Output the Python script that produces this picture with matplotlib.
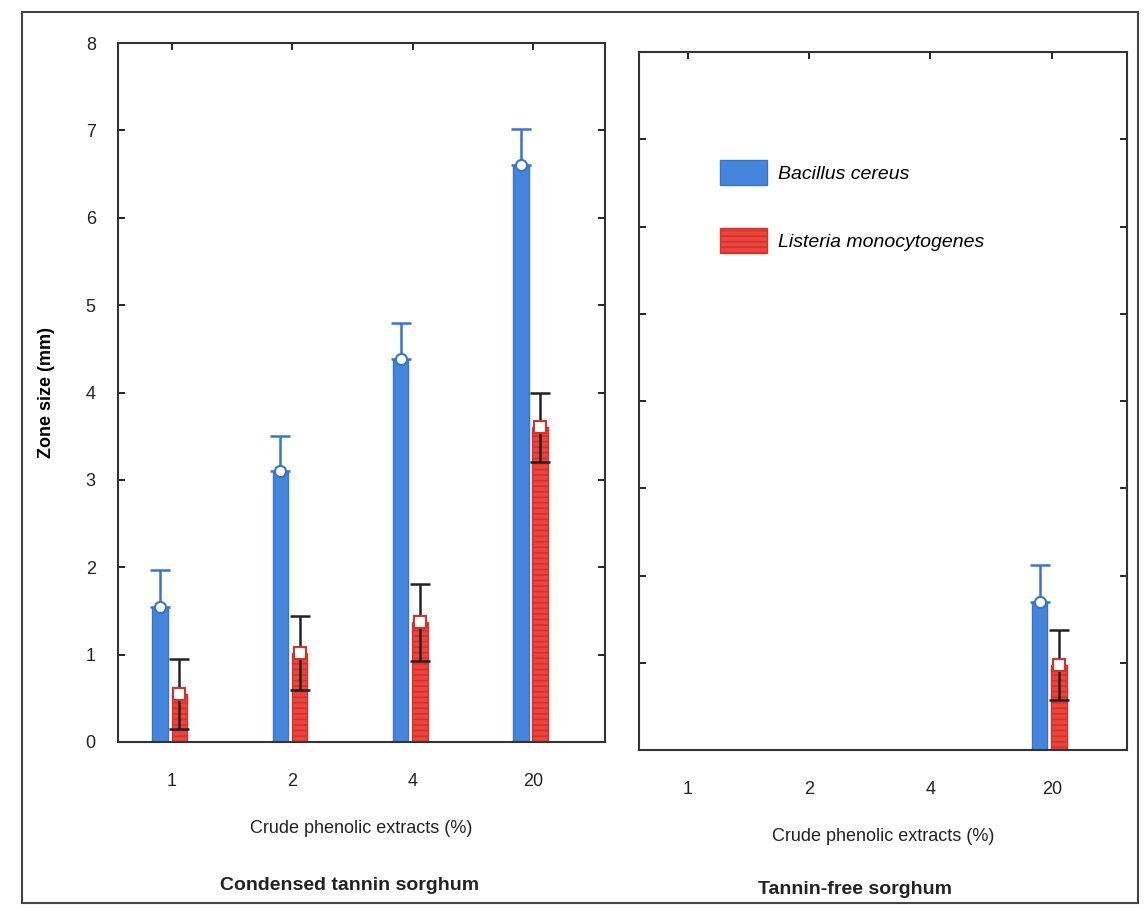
import matplotlib
matplotlib.use("Agg")
import matplotlib.pyplot as plt
from matplotlib.patches import Rectangle, Patch
import numpy as np

categories = ["1", "2", "4", "20"]
# Condensed tannin sorghum
bc_ct = [1.55, 3.10, 4.38, 6.60]
bc_ct_err = [0.42, 0.40, 0.42, 0.42]
lm_ct = [0.55, 1.02, 1.37, 3.60]
lm_ct_err = [0.40, 0.42, 0.44, 0.40]
# Tannin-free sorghum
bc_tf = [0.0, 0.0, 0.0, 1.70]
bc_tf_err = [0.0, 0.0, 0.0, 0.42]
lm_tf = [0.0, 0.0, 0.0, 0.97]
lm_tf_err = [0.0, 0.0, 0.0, 0.40]

series_names = ["Bacillus cereus", "Listeria monocytogenes"]
xlabel = "Crude phenolic extracts (%)"
panel_titles = ["Condensed tannin sorghum", "Tannin-free sorghum"]
ylabel = "Zone size (mm)"

BLUE = "#4585dc"
BLUE_EDGE = "#3a74c8"
RED = "#e8463e"
RED_EDGE = "#d8302a"

plt.rcParams['font.family'] = ['Liberation Sans', 'DejaVu Sans']
plt.rcParams['hatch.color'] = 'white'
plt.rcParams['hatch.linewidth'] = 1.2

fig = plt.figure(figsize=(11.46, 9.17), dpi=100)

# outer frame
fig.patches.append(Rectangle((22/1146, 1-903/917), (1138-22)/1146, (903-12)/917,
                             transform=fig.transFigure, fill=False,
                             edgecolor="#444444", linewidth=1.5))

ax1 = fig.add_axes([118/1146, 1-742/917, (605-118)/1146, (742-43)/917])
ax2 = fig.add_axes([639/1146, 1-750/917, (1127-639)/1146, (750-52)/917])

def draw(ax, bc, bce, lm, lme, xlim):
    x = np.arange(len(categories))
    w = 0.13
    xb = x - 0.1
    xr = x + 0.06
    for i in range(len(x)):
        if bc[i] > 0:
            ax.bar(xb[i], bc[i], width=w, color=BLUE, edgecolor=BLUE_EDGE,
                   linewidth=1, zorder=2)
            ax.errorbar(xb[i], bc[i], yerr=[[0], [bce[i]]], fmt='none',
                        ecolor=BLUE_EDGE, elinewidth=1.8, capsize=7,
                        capthick=1.8, zorder=3)
            ax.plot(xb[i], bc[i], marker='o', ms=8, mfc='white',
                    mec=BLUE_EDGE, mew=1.5, zorder=4)
        if lm[i] > 0:
            ax.bar(xr[i], lm[i], width=w, color=RED, edgecolor=RED_EDGE,
                   linewidth=1, hatch='---', zorder=2)
            ax.errorbar(xr[i], lm[i], yerr=lme[i], fmt='none',
                        ecolor='#222222', elinewidth=1.8, capsize=7,
                        capthick=1.8, zorder=3)
            ax.plot(xr[i], lm[i], marker='s', ms=8, mfc='white',
                    mec=RED_EDGE, mew=1.5, zorder=4)
    ax.set_xlim(*xlim)
    ax.set_ylim(0, 8)
    ax.set_xticks(x)
    ax.set_xticklabels(categories, fontsize=13, color="#222222")
    ax.set_yticks(range(0, 9))
    ax.tick_params(axis='y', direction='in', length=5, width=1.2,
                   left=True, right=True)
    ax.tick_params(axis='x', direction='in', length=5, width=1.2,
                   top=True, bottom=False, pad=22)
    for s in ax.spines.values():
        s.set_linewidth(1.5)
        s.set_color("#333333")
    ax.set_xlabel(xlabel, fontsize=13, color="#222222", labelpad=22)

draw(ax1, bc_ct, bc_ct_err, lm_ct, lm_ct_err, (-0.45, 3.6))
draw(ax2, bc_tf, bc_tf_err, lm_tf, lm_tf_err, (-0.4, 3.62))

ax1.set_yticklabels([str(v) for v in range(0, 9)], fontsize=13, color="#222222")
ax1.tick_params(axis='y', pad=16)
ax2.set_yticklabels([])
ax1.set_ylabel(ylabel, fontsize=13, fontweight='bold', labelpad=22)

fig.text(350/1146, 1-885/917, panel_titles[0], ha='center', va='center',
         fontsize=14, fontweight='bold', color="#222222")
fig.text(855/1146, 1-890/917, panel_titles[1], ha='center', va='center',
         fontsize=14, fontweight='bold', color="#222222")

handles = [Patch(facecolor=BLUE, edgecolor=BLUE_EDGE),
           Patch(facecolor=RED, edgecolor=RED_EDGE, hatch='---')]
leg = ax2.legend(handles, series_names, loc='upper left',
                 bbox_to_anchor=(0.13, 0.87), frameon=False,
                 prop={'size': 14, 'style': 'italic'},
                 handlelength=2.4, handleheight=1.6, labelspacing=2.2,
                 handletextpad=0.6)

fig.savefig("out.png", dpi=100)
